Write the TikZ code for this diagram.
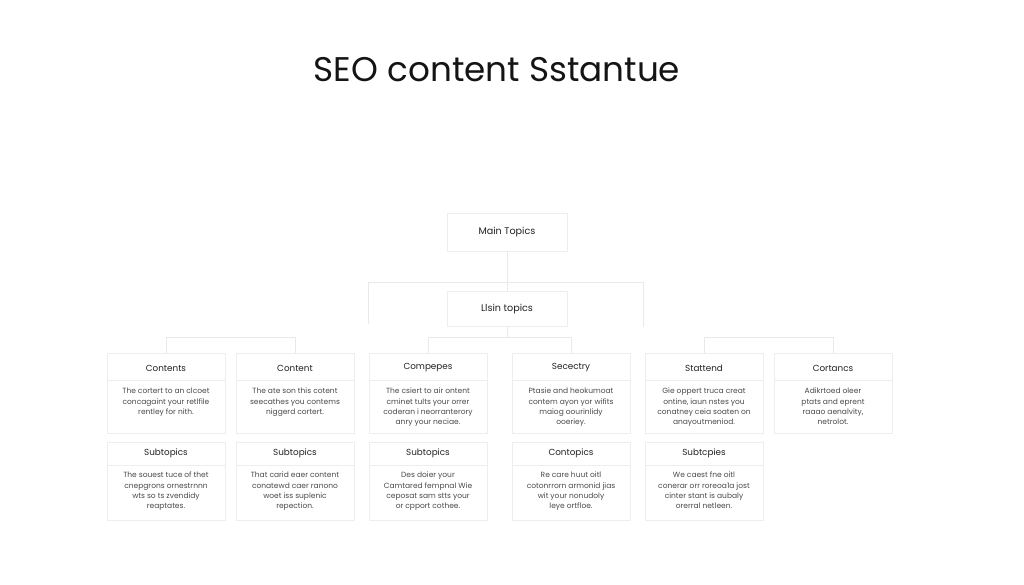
\documentclass[tikz,border=0pt]{standalone}
\usepackage{fontspec}
\setmainfont{Poppins}
\usetikzlibrary{calc}
\definecolor{linec}{HTML}{E9E9E9}
\definecolor{cardc}{HTML}{EEEEEE}
\definecolor{headc}{HTML}{222222}
\definecolor{bodyc}{HTML}{4A4A4A}
\begin{document}
\begin{tikzpicture}[x=1pt,y=-1pt,
  topbox/.style={draw=cardc, line width=0.8pt, minimum width=120pt, minimum height=38pt, inner sep=0pt, font=\fontsize{9.6}{11}\selectfont, text=headc},
  card/.style={draw=cardc, line width=0.8pt, minimum width=118pt, inner sep=0pt},
  head/.style={font=\fontsize{8.8}{10}\selectfont, text=headc, anchor=center},
  body/.style={font=\fontsize{7.5}{10.3}\selectfont, text=bodyc, align=center, anchor=north, inner sep=0pt},
  conn/.style={draw=linec, line width=0.8pt}]
\useasboundingbox (0,0) rectangle (1024,585);
\fill[white] (0,0) rectangle (1024,585);

\node[font=\fontsize{34.2}{36}\selectfont, text=black!92, anchor=base] (title) at (497,82) {SEO content Sstantue};

\node[topbox] (mt) at (507,232) {Main Topics};
\node[topbox, minimum height=35pt] (lt) at (507,309) {Llsin topics};

% connectors top
\coordinate (bl) at (368,324);
\coordinate (br) at (643,327);
\draw[conn] (mt.south) -- (lt.north);
\draw[conn] (bl) -- (368,282) -- (643,282) -- (br);

% row 1 cards
\foreach \n/\x in {1/166,2/295,3/428,4/571,5/704,6/833}{
  \node[card, minimum height=80pt] (c\n) at (\x,393) {};
  \draw[cardc, line width=0.6pt] (\x-59,380) -- (\x+59,380);
}
% row 2 cards
\foreach \n/\x in {1/166,2/295,3/428,4/571,5/704}{
  \node[card, minimum height=78pt] (s\n) at (\x,481) {};
  \draw[cardc, line width=0.6pt] (\x-59,465) -- (\x+59,465);
}

% row connectors
\draw[conn] (c1.north) -- ++(0,-15) -| (c2.north);
\draw[conn] (c3.north) -- ++(0,-15) -| (c4.north);
\draw[conn] (c5.north) -- ++(0,-15) -| (c6.north);
\draw[conn] (lt.south) -- (lt.south |- 0,338);

% row 1 text
\node[head] (h1) at (166,368) {Contents};
\node[body] (b1) at (166,388) {The cortert to an clcoet\\concagaint your retlfile\\rentley for nith.};
\node[head] (h2) at (295,368) {Content};
\node[body] (b2) at (295,388) {The ate son this cotent\\seecathes you contems\\niggerd cortert.};
\node[head] (h3) at (428,368) {Compepes};
\node[body] (b3) at (428,388) {The csiert to air ontent\\cminet tults your orrer\\coderan i neorranterory\\anry your neciae.};
\node[head] (h4) at (571,368) {Secectry};
\node[body] (b4) at (571,388) {Ptasie and heokumoat\\contem ayon yor wifits\\maiog oourinlidy\\ooeriey.};
\node[head] (h5) at (704,368) {Stattend};
\node[body] (b5) at (704,388) {Gie oppert truca creat\\ontine, iaun nstes you\\conatney ceia soaten on\\anayoutmeniod.};
\node[head] (h6) at (833,368) {Cortancs};
\node[body] (b6) at (833,388) {Adikrtoed oleer\\ptats and eprent\\raaao aenalvity,\\netrolot.};

% row 2 text
\node[head] (g1) at (166,453) {Subtopics};
\node[body] (d1) at (166,472) {The souest tuce of thet\\cnepgrons ornestrnnn\\wts so ts zvendidy\\reaptates.};
\node[head] (g2) at (295,453) {Subtopics};
\node[body] (d2) at (295,472) {That carid eaer content\\conatewd caer ranono\\woet iss suplenic\\repection.};
\node[head] (g3) at (428,453) {Subtopics};
\node[body] (d3) at (428,472) {Des doier your\\Camtared fempnal Wie\\ceposat sam stts your\\or cpport cothee.};
\node[head] (g4) at (571,453) {Contopics};
\node[body] (d4) at (571,472) {Re care huut oitl\\cotonrrorn armonid jias\\wit your nonudoly\\leye ortfloe.};
\node[head] (g5) at (704,453) {Subtcpies};
\node[body] (d5) at (704,472) {We caest fne oitl\\conerar orr roreoa1a jost\\cinter stant is aubaly\\orerral netleen.};
\end{tikzpicture}
\end{document}
